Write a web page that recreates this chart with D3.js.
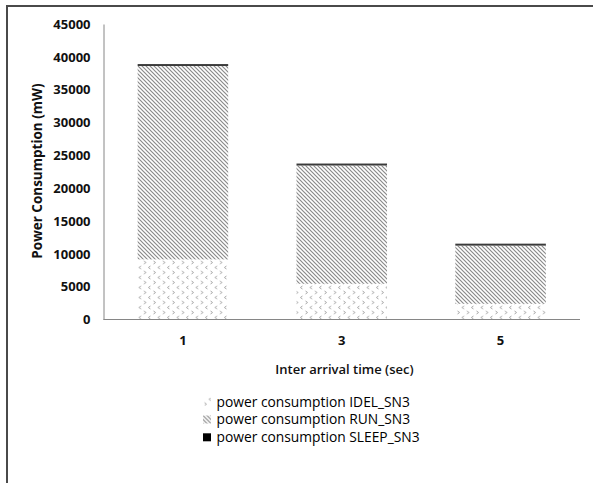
<!DOCTYPE html>
<html>
<head>
<meta charset="utf-8">
<script src="https://cdn.jsdelivr.net/npm/d3@7"></script>
<style>
  html, body { margin: 0; padding: 0; background: #fff; }
  svg { display: block; }
</style>
</head>
<body>
<svg id="chart" width="593" height="483"></svg>
<script>
// ---- data ----
const categories = ["1", "3", "5"];
const idleValues = [9150, 5440, 2390];
const runValues = [29450, 18010, 8860];
const sleepValues = [300, 300, 300];
const seriesNames = ["power consumption IDEL_SN3", "power consumption RUN_SN3", "power consumption SLEEP_SN3"];
const yTickValues = [0, 5000, 10000, 15000, 20000, 25000, 30000, 35000, 40000, 45000];
const xTitle = "Inter arrival time (sec)";
const yTitle = "Power Consumption (mW)";

const rows = categories.map((c, i) => ({ cat: c, idle: idleValues[i], run: runValues[i], sleep: sleepValues[i] }));
const keys = ["idle", "run", "sleep"];

const svg = d3.select("#chart");
const font = "'Open Sans', 'DejaVu Sans', sans-serif";

// frame (clipped on right/bottom as in reference)
svg.append("rect").attr("width", 593).attr("height", 483).attr("fill", "#fff");
svg.append("rect").attr("x", 7).attr("y", 6).attr("width", 620).attr("height", 520)
  .attr("fill", "none").attr("stroke", "#4a4a4a").attr("stroke-width", 2);

// patterns
const defs = svg.append("defs");
const pRun = defs.append("pattern").attr("id", "pRun").attr("patternUnits", "userSpaceOnUse")
  .attr("width", 4).attr("height", 4);
pRun.append("path").attr("d", "M-1,-1 L5,5 M-1,3 L1,5 M3,-1 L5,1")
  .attr("stroke", "#8a8a8a").attr("stroke-width", 1.2).attr("fill", "none");

const pIdle = defs.append("pattern").attr("id", "pIdle").attr("patternUnits", "userSpaceOnUse")
  .attr("width", 9.5).attr("height", 10);
pIdle.append("path").attr("d", "M1.5,1 L3.5,2.5 L1.5,4")
  .attr("stroke", "#9a9a9a").attr("stroke-width", 0.9).attr("fill", "none");
pIdle.append("path").attr("d", "M8,6 L6,7.5 L8,9")
  .attr("stroke", "#9a9a9a").attr("stroke-width", 0.9).attr("fill", "none");

const fills = { idle: "url(#pIdle)", run: "url(#pRun)", sleep: "#3a3a3a" };

// scales
const x = d3.scaleBand().domain(categories).range([103.5, 580]).paddingInner(0.43).paddingOuter(0.215);
const y = d3.scaleLinear().domain([0, 45000]).range([319.5, 24]);

// bars
const stacked = d3.stack().keys(keys)(rows);
svg.append("g").selectAll("g").data(stacked).join("g")
  .attr("fill", d => fills[d.key])
  .selectAll("rect").data(d => d).join("rect")
  .attr("x", d => x(d.data.cat))
  .attr("width", x.bandwidth())
  .attr("y", d => y(d[1]))
  .attr("height", d => y(d[0]) - y(d[1]));

// y axis
const yAxis = svg.append("g").attr("transform", "translate(103.5,0)")
  .call(d3.axisLeft(y).tickValues(yTickValues).tickSize(0).tickPadding(13).tickFormat(d3.format("d")));
yAxis.select(".domain").attr("stroke", "#868686");
yAxis.selectAll("text").attr("font-family", font).attr("font-weight", "bold").attr("font-size", 13).attr("fill", "#111");

// x axis
const xAxis = svg.append("g").attr("transform", "translate(0,319.5)")
  .call(d3.axisBottom(x).tickSize(0).tickPadding(16));
xAxis.select(".domain").attr("stroke", "#868686").attr("d", "M103.5,0H580");
xAxis.selectAll("text").attr("font-family", font).attr("font-weight", "bold").attr("font-size", 13).attr("fill", "#111");

// titles
svg.append("text").attr("x", 344.5).attr("y", 369.3).attr("dy", "0.35em")
  .attr("text-anchor", "middle").attr("font-family", font).attr("font-weight", 600)
  .attr("font-size", 13).attr("fill", "#111").text(xTitle);
svg.append("text").attr("transform", "translate(37,171) rotate(-90)").attr("dy", "0.35em")
  .attr("text-anchor", "middle").attr("font-family", font).attr("font-weight", "bold")
  .attr("font-size", 13.5).attr("fill", "#111").text(yTitle);

// legend
const legendY = d3.scalePoint().domain(keys).range([401.7, 437.3]);
const lg = svg.append("g").selectAll("g").data(keys).join("g")
  .attr("transform", d => `translate(203,${legendY(d)})`);
lg.append("rect").attr("x", 0).attr("y", -4).attr("width", 8).attr("height", 8)
  .attr("fill", d => d === "sleep" ? "#000" : fills[d]);
lg.append("text").attr("x", 13.5).attr("dy", "0.35em")
  .attr("font-family", font).attr("font-size", 13.8).attr("font-weight", 500).attr("fill", "#000")
  .text((d, i) => seriesNames[i]);
</script>
</body>
</html>
